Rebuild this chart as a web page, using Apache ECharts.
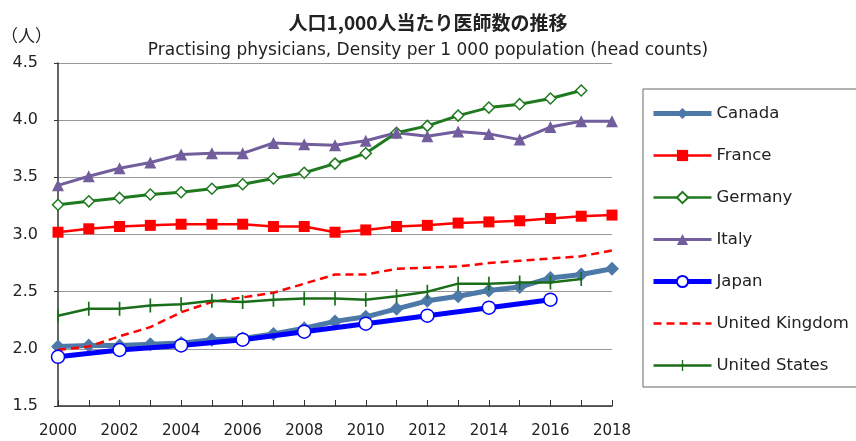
<!DOCTYPE html>
<html>
<head>
<meta charset="utf-8">
<script src="https://cdn.jsdelivr.net/npm/echarts@6/dist/echarts.min.js"></script>
<style>
  html, body { margin: 0; padding: 0; background: #fff; }
  #chart { width: 856px; height: 441px; }
</style>
</head>
<body>
<div id="chart"></div>
<script>
  const years = ['2000', '2001', '2002', '2003', '2004', '2005', '2006', '2007', '2008', '2009',
                 '2010', '2011', '2012', '2013', '2014', '2015', '2016', '2017', '2018'];

  // 人口1,000人当たり医師数
  const canada = [2.02, 2.03, 2.03, 2.04, 2.05, 2.08, 2.09, 2.13, 2.18, 2.24,
                  2.28, 2.35, 2.42, 2.46, 2.51, 2.54, 2.62, 2.65, 2.70];
  const france = [3.02, 3.05, 3.07, 3.08, 3.09, 3.09, 3.09, 3.07, 3.07, 3.02,
                  3.04, 3.07, 3.08, 3.10, 3.11, 3.12, 3.14, 3.16, 3.17];
  const germany = [3.26, 3.29, 3.32, 3.35, 3.37, 3.40, 3.44, 3.49, 3.54, 3.62,
                   3.71, 3.89, 3.95, 4.04, 4.11, 4.14, 4.19, 4.26, null];
  const italy = [3.43, 3.51, 3.58, 3.63, 3.70, 3.71, 3.71, 3.80, 3.79, 3.78,
                 3.82, 3.89, 3.86, 3.90, 3.88, 3.83, 3.94, 3.99, 3.99];
  const japan = [1.93, null, 1.99, null, 2.03, null, 2.08, null, 2.15, null,
                 2.22, null, 2.29, null, 2.36, null, 2.43, null, null];
  const uk = [1.99, 2.02, 2.11, 2.19, 2.32, 2.41, 2.45, 2.49, 2.57, 2.65,
              2.65, 2.70, 2.71, 2.72, 2.75, 2.77, 2.79, 2.81, 2.86];
  const us = [2.29, 2.35, 2.35, 2.38, 2.39, 2.42, 2.41, 2.43, 2.44, 2.44,
              2.43, 2.46, 2.50, 2.57, 2.57, 2.58, 2.58, 2.61, null];

  const yTicks = [1.5, 2.0, 2.5, 3.0, 3.5, 4.0, 4.5];

  const chart = echarts.init(document.getElementById('chart'));

  const font = "'DejaVu Sans', sans-serif";
  const jpFont = "'Noto Sans CJK JP', sans-serif";
  // 縦棒だけのマーカー（正方形の枠に収めるため両端に点を置く）
  const tickMark = 'path://M0,5L0.01,5Z M4.4,0L5.6,0L5.6,10L4.4,10Z M10,5L9.99,5Z';

  chart.setOption({
    animation: false,
    backgroundColor: '#fff',
    title: [
      {
        text: '人口1,000人当たり医師数の推移',
        left: 'center',
        top: 8,
        textStyle: { fontFamily: jpFont, fontSize: 19, fontWeight: 'bold', color: '#222' }
      },
      {
        text: 'Practising physicians, Density per 1 000 population (head counts)',
        left: 'center',
        top: 37,
        textStyle: { fontFamily: font, fontSize: 17, fontWeight: 'normal', color: '#222' }
      },
      {
        text: '（人）',
        left: -4,
        top: 22,
        textStyle: { fontFamily: jpFont, fontSize: 17, fontWeight: 'normal', color: '#222' }
      }
    ],
    grid: { left: 58, right: 244, top: 63, bottom: 35 },
    legend: {
      orient: 'vertical',
      left: 643,
      top: 89,
      padding: [16, 30, 13, 8],
      itemGap: 25,
      itemWidth: 58,
      itemHeight: 14,
      borderColor: '#666',
      borderWidth: 1,
      textStyle: { fontFamily: font, fontSize: 16.5, color: '#222' },
      data: [
        { name: 'Canada', lineStyle: { width: 5 } },
        { name: 'France', lineStyle: { width: 2.5 } },
        { name: 'Germany', lineStyle: { width: 2.5 } },
        { name: 'Italy', lineStyle: { width: 3 } },
        { name: 'Japan', lineStyle: { width: 5 } },
        { name: 'United Kingdom', lineStyle: { width: 2.5 }, itemStyle: { opacity: 0 } },
        { name: 'United States', lineStyle: { width: 2.5 } }
      ]
    },
    xAxis: {
      type: 'category',
      data: years,
      boundaryGap: false,
      axisLine: { lineStyle: { color: '#333', width: 1.5 } },
      axisTick: { inside: true, interval: 0, length: 6, lineStyle: { color: '#333' } },
      axisLabel: { interval: 1, margin: 18, fontFamily: font, fontSize: 15, color: '#222' }
    },
    yAxis: {
      type: 'value',
      min: yTicks[0],
      max: yTicks[yTicks.length - 1],
      interval: 0.5,
      axisLine: { show: true, lineStyle: { color: '#333', width: 1.5 } },
      axisTick: { show: true, length: 4, lineStyle: { color: '#333' } },
      axisLabel: {
        margin: 20,
        fontFamily: font,
        fontSize: 16,
        color: '#222',
        formatter: v => v.toFixed(1)
      },
      splitLine: { lineStyle: { color: '#999', width: 1 } }
    },
    series: [
      {
        name: 'Canada', type: 'line', data: canada,
        symbol: 'diamond', symbolSize: 14,
        itemStyle: { color: '#4d79a8' },
        lineStyle: { color: '#4d79a8', width: 5 },
        z: 2
      },
      {
        name: 'France', type: 'line', data: france,
        symbol: 'rect', symbolSize: 11,
        itemStyle: { color: '#ff0000' },
        lineStyle: { color: '#ff0000', width: 2.5 }
      },
      {
        name: 'Germany', type: 'line', data: germany,
        symbol: 'diamond', symbolSize: 11,
        itemStyle: { color: '#fff', borderColor: '#1f7a1f', borderWidth: 1.5 },
        lineStyle: { color: '#1f7a1f', width: 3 }
      },
      {
        name: 'Italy', type: 'line', data: italy,
        symbol: 'triangle', symbolSize: 12,
        itemStyle: { color: '#725e9c' },
        lineStyle: { color: '#725e9c', width: 3 }
      },
      {
        name: 'Japan', type: 'line', data: japan, connectNulls: true,
        symbol: 'circle', symbolSize: 13,
        itemStyle: { color: '#fff', borderColor: '#0000ff', borderWidth: 1.5 },
        lineStyle: { color: '#0000ff', width: 5 },
        z: 3
      },
      {
        name: 'United Kingdom', type: 'line', data: uk,
        symbol: 'none',
        itemStyle: { color: '#ff0000' },
        lineStyle: { color: '#ff0000', width: 2.5, type: [8, 5] }
      },
      {
        name: 'United States', type: 'line', data: us,
        symbol: tickMark, symbolSize: 14,
        itemStyle: { color: '#1a6e1a' },
        lineStyle: { color: '#1a6e1a', width: 2.5 }
      }
    ]
  });
</script>
</body>
</html>
